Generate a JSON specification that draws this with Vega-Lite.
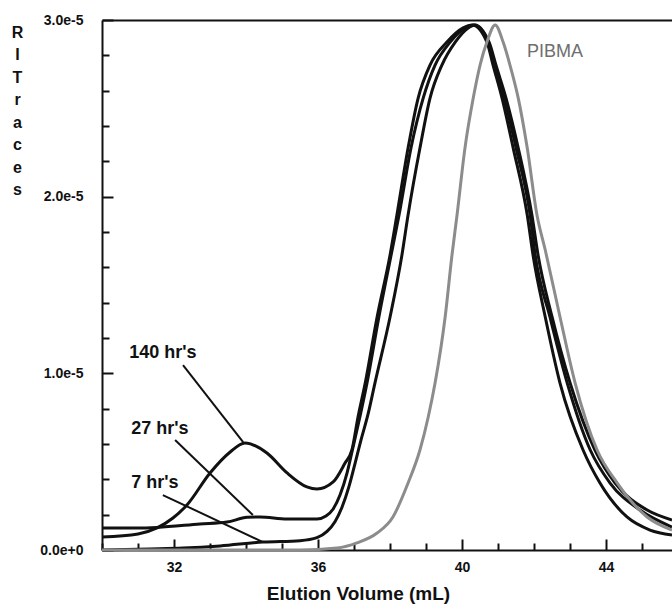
{
  "$schema": "https://vega.github.io/schema/vega-lite/v6.json",
  "autosize": "none",
  "width": 570,
  "height": 530,
  "padding": {"left": 102, "top": 20, "right": 0, "bottom": 55},
  "background": "white",
  "config": {"view": {"stroke": null}, "font": "Liberation Sans"},
  "datasets": {
    "curves": [
      {"series": "140 hr's", "volume": 30.00, "ri": 0.074e-5},
      {"series": "140 hr's", "volume": 31.00, "ri": 0.091e-5},
      {"series": "140 hr's", "volume": 31.53, "ri": 0.125e-5},
      {"series": "140 hr's", "volume": 31.97, "ri": 0.181e-5},
      {"series": "140 hr's", "volume": 32.36, "ri": 0.255e-5},
      {"series": "140 hr's", "volume": 33.00, "ri": 0.436e-5},
      {"series": "140 hr's", "volume": 33.56, "ri": 0.555e-5},
      {"series": "140 hr's", "volume": 33.97, "ri": 0.606e-5},
      {"series": "140 hr's", "volume": 34.58, "ri": 0.549e-5},
      {"series": "140 hr's", "volume": 35.14, "ri": 0.436e-5},
      {"series": "140 hr's", "volume": 35.69, "ri": 0.357e-5},
      {"series": "140 hr's", "volume": 35.97, "ri": 0.345e-5},
      {"series": "140 hr's", "volume": 36.42, "ri": 0.385e-5},
      {"series": "140 hr's", "volume": 36.75, "ri": 0.492e-5},
      {"series": "140 hr's", "volume": 36.94, "ri": 0.566e-5},
      {"series": "140 hr's", "volume": 37.11, "ri": 0.753e-5},
      {"series": "140 hr's", "volume": 37.31, "ri": 0.945e-5},
      {"series": "140 hr's", "volume": 37.64, "ri": 1.319e-5},
      {"series": "140 hr's", "volume": 38.00, "ri": 1.670e-5},
      {"series": "140 hr's", "volume": 38.19, "ri": 1.896e-5},
      {"series": "140 hr's", "volume": 38.50, "ri": 2.275e-5},
      {"series": "140 hr's", "volume": 38.78, "ri": 2.558e-5},
      {"series": "140 hr's", "volume": 39.11, "ri": 2.745e-5},
      {"series": "140 hr's", "volume": 39.58, "ri": 2.875e-5},
      {"series": "140 hr's", "volume": 40.03, "ri": 2.955e-5},
      {"series": "140 hr's", "volume": 40.28, "ri": 2.972e-5},
      {"series": "140 hr's", "volume": 40.69, "ri": 2.875e-5},
      {"series": "140 hr's", "volume": 40.86, "ri": 2.745e-5},
      {"series": "140 hr's", "volume": 41.11, "ri": 2.558e-5},
      {"series": "140 hr's", "volume": 41.42, "ri": 2.275e-5},
      {"series": "140 hr's", "volume": 41.81, "ri": 1.896e-5},
      {"series": "140 hr's", "volume": 41.97, "ri": 1.670e-5},
      {"series": "140 hr's", "volume": 42.31, "ri": 1.319e-5},
      {"series": "140 hr's", "volume": 42.72, "ri": 0.945e-5},
      {"series": "140 hr's", "volume": 43.36, "ri": 0.566e-5},
      {"series": "140 hr's", "volume": 43.83, "ri": 0.379e-5},
      {"series": "140 hr's", "volume": 44.58, "ri": 0.187e-5},
      {"series": "140 hr's", "volume": 45.22, "ri": 0.113e-5},
      {"series": "140 hr's", "volume": 45.83, "ri": 0.085e-5},

      {"series": "27 hr's", "volume": 30.00, "ri": 0.125e-5},
      {"series": "27 hr's", "volume": 31.00, "ri": 0.125e-5},
      {"series": "27 hr's", "volume": 31.53, "ri": 0.128e-5},
      {"series": "27 hr's", "volume": 32.72, "ri": 0.147e-5},
      {"series": "27 hr's", "volume": 33.47, "ri": 0.158e-5},
      {"series": "27 hr's", "volume": 34.03, "ri": 0.185e-5},
      {"series": "27 hr's", "volume": 34.39, "ri": 0.187e-5},
      {"series": "27 hr's", "volume": 35.14, "ri": 0.175e-5},
      {"series": "27 hr's", "volume": 35.97, "ri": 0.175e-5},
      {"series": "27 hr's", "volume": 36.22, "ri": 0.192e-5},
      {"series": "27 hr's", "volume": 36.42, "ri": 0.232e-5},
      {"series": "27 hr's", "volume": 36.61, "ri": 0.311e-5},
      {"series": "27 hr's", "volume": 36.81, "ri": 0.440e-5},
      {"series": "27 hr's", "volume": 36.97, "ri": 0.580e-5},
      {"series": "27 hr's", "volume": 37.17, "ri": 0.760e-5},
      {"series": "27 hr's", "volume": 37.36, "ri": 0.945e-5},
      {"series": "27 hr's", "volume": 37.69, "ri": 1.319e-5},
      {"series": "27 hr's", "volume": 38.03, "ri": 1.670e-5},
      {"series": "27 hr's", "volume": 38.25, "ri": 1.896e-5},
      {"series": "27 hr's", "volume": 38.58, "ri": 2.275e-5},
      {"series": "27 hr's", "volume": 38.92, "ri": 2.558e-5},
      {"series": "27 hr's", "volume": 39.25, "ri": 2.745e-5},
      {"series": "27 hr's", "volume": 39.67, "ri": 2.875e-5},
      {"series": "27 hr's", "volume": 40.08, "ri": 2.955e-5},
      {"series": "27 hr's", "volume": 40.33, "ri": 2.972e-5},
      {"series": "27 hr's", "volume": 40.75, "ri": 2.875e-5},
      {"series": "27 hr's", "volume": 40.94, "ri": 2.745e-5},
      {"series": "27 hr's", "volume": 41.22, "ri": 2.558e-5},
      {"series": "27 hr's", "volume": 41.56, "ri": 2.275e-5},
      {"series": "27 hr's", "volume": 41.94, "ri": 1.896e-5},
      {"series": "27 hr's", "volume": 42.11, "ri": 1.670e-5},
      {"series": "27 hr's", "volume": 42.50, "ri": 1.319e-5},
      {"series": "27 hr's", "volume": 43.00, "ri": 0.945e-5},
      {"series": "27 hr's", "volume": 43.69, "ri": 0.566e-5},
      {"series": "27 hr's", "volume": 44.25, "ri": 0.379e-5},
      {"series": "27 hr's", "volume": 45.14, "ri": 0.226e-5},
      {"series": "27 hr's", "volume": 45.83, "ri": 0.170e-5},

      {"series": "7 hr's", "volume": 30.00, "ri": 0.0},
      {"series": "7 hr's", "volume": 31.33, "ri": 0.006e-5},
      {"series": "7 hr's", "volume": 32.25, "ri": 0.011e-5},
      {"series": "7 hr's", "volume": 33.28, "ri": 0.023e-5},
      {"series": "7 hr's", "volume": 34.47, "ri": 0.045e-5},
      {"series": "7 hr's", "volume": 35.50, "ri": 0.053e-5},
      {"series": "7 hr's", "volume": 35.97, "ri": 0.070e-5},
      {"series": "7 hr's", "volume": 36.25, "ri": 0.105e-5},
      {"series": "7 hr's", "volume": 36.47, "ri": 0.160e-5},
      {"series": "7 hr's", "volume": 36.67, "ri": 0.245e-5},
      {"series": "7 hr's", "volume": 36.86, "ri": 0.360e-5},
      {"series": "7 hr's", "volume": 37.03, "ri": 0.492e-5},
      {"series": "7 hr's", "volume": 37.19, "ri": 0.620e-5},
      {"series": "7 hr's", "volume": 37.39, "ri": 0.770e-5},
      {"series": "7 hr's", "volume": 37.58, "ri": 0.945e-5},
      {"series": "7 hr's", "volume": 38.00, "ri": 1.319e-5},
      {"series": "7 hr's", "volume": 38.33, "ri": 1.670e-5},
      {"series": "7 hr's", "volume": 38.50, "ri": 1.896e-5},
      {"series": "7 hr's", "volume": 38.83, "ri": 2.275e-5},
      {"series": "7 hr's", "volume": 39.11, "ri": 2.558e-5},
      {"series": "7 hr's", "volume": 39.44, "ri": 2.745e-5},
      {"series": "7 hr's", "volume": 39.81, "ri": 2.875e-5},
      {"series": "7 hr's", "volume": 40.17, "ri": 2.955e-5},
      {"series": "7 hr's", "volume": 40.36, "ri": 2.972e-5},
      {"series": "7 hr's", "volume": 40.72, "ri": 2.875e-5},
      {"series": "7 hr's", "volume": 40.89, "ri": 2.745e-5},
      {"series": "7 hr's", "volume": 41.17, "ri": 2.558e-5},
      {"series": "7 hr's", "volume": 41.50, "ri": 2.275e-5},
      {"series": "7 hr's", "volume": 41.89, "ri": 1.896e-5},
      {"series": "7 hr's", "volume": 42.03, "ri": 1.670e-5},
      {"series": "7 hr's", "volume": 42.44, "ri": 1.319e-5},
      {"series": "7 hr's", "volume": 42.92, "ri": 0.945e-5},
      {"series": "7 hr's", "volume": 43.56, "ri": 0.566e-5},
      {"series": "7 hr's", "volume": 44.11, "ri": 0.379e-5},
      {"series": "7 hr's", "volume": 44.94, "ri": 0.226e-5},
      {"series": "7 hr's", "volume": 45.83, "ri": 0.130e-5},

      {"series": "PIBMA", "volume": 30.00, "ri": 0.0},
      {"series": "PIBMA", "volume": 35.50, "ri": 0.0},
      {"series": "PIBMA", "volume": 36.53, "ri": 0.011e-5},
      {"series": "PIBMA", "volume": 37.08, "ri": 0.040e-5},
      {"series": "PIBMA", "volume": 37.64, "ri": 0.096e-5},
      {"series": "PIBMA", "volume": 38.08, "ri": 0.187e-5},
      {"series": "PIBMA", "volume": 38.50, "ri": 0.379e-5},
      {"series": "PIBMA", "volume": 38.83, "ri": 0.566e-5},
      {"series": "PIBMA", "volume": 39.06, "ri": 0.753e-5},
      {"series": "PIBMA", "volume": 39.25, "ri": 0.945e-5},
      {"series": "PIBMA", "volume": 39.53, "ri": 1.319e-5},
      {"series": "PIBMA", "volume": 39.72, "ri": 1.670e-5},
      {"series": "PIBMA", "volume": 39.86, "ri": 1.896e-5},
      {"series": "PIBMA", "volume": 40.08, "ri": 2.275e-5},
      {"series": "PIBMA", "volume": 40.31, "ri": 2.558e-5},
      {"series": "PIBMA", "volume": 40.50, "ri": 2.745e-5},
      {"series": "PIBMA", "volume": 40.69, "ri": 2.875e-5},
      {"series": "PIBMA", "volume": 40.92, "ri": 2.972e-5},
      {"series": "PIBMA", "volume": 41.14, "ri": 2.875e-5},
      {"series": "PIBMA", "volume": 41.33, "ri": 2.745e-5},
      {"series": "PIBMA", "volume": 41.56, "ri": 2.558e-5},
      {"series": "PIBMA", "volume": 41.81, "ri": 2.275e-5},
      {"series": "PIBMA", "volume": 42.08, "ri": 1.896e-5},
      {"series": "PIBMA", "volume": 42.31, "ri": 1.698e-5},
      {"series": "PIBMA", "volume": 42.72, "ri": 1.319e-5},
      {"series": "PIBMA", "volume": 43.14, "ri": 0.945e-5},
      {"series": "PIBMA", "volume": 43.75, "ri": 0.566e-5},
      {"series": "PIBMA", "volume": 44.31, "ri": 0.379e-5},
      {"series": "PIBMA", "volume": 45.14, "ri": 0.187e-5},
      {"series": "PIBMA", "volume": 45.83, "ri": 0.113e-5}
    ],
    "pointers": [
      {"series": "140 hr's", "x1": 32.25, "y1": 1.047e-5, "x2": 33.92, "y2": 0.611e-5},
      {"series": "27 hr's", "x1": 32.03, "y1": 0.623e-5, "x2": 34.19, "y2": 0.198e-5},
      {"series": "7 hr's", "x1": 31.69, "y1": 0.311e-5, "x2": 34.47, "y2": 0.045e-5}
    ],
    "labels": [
      {"label": "140 hr's", "x": 31.69, "y": 1.115e-5},
      {"label": "27 hr's", "x": 31.61, "y": 0.685e-5},
      {"label": "7 hr's", "x": 31.47, "y": 0.379e-5},
      {"label": "PIBMA", "x": 42.58, "y": 2.819e-5}
    ]
  },
  "resolve": {"axis": {"x": "independent", "y": "independent"}},
  "layer": [
    {
      "data": {"name": "pointers"},
      "mark": {"type": "rule", "strokeWidth": 2, "color": "#111"},
      "encoding": {
        "x": {
          "field": "x1", "type": "quantitative",
          "scale": {"domain": [30, 45.83], "nice": false, "zero": false},
          "axis": {"orient": "bottom", "offset": 0, "values": [30,31,33,34,35,37,38,39,41,42,43,45], "labels": false, "grid": false, "title": null, "domain": false,
                   "tickColor": "#111", "tickWidth": 2, "tickSize": -7}
        },
        "y": {
          "field": "y1", "type": "quantitative", "scale": {"domain": [0, 3e-5], "nice": false},
          "axis": {"orient": "left", "offset": 0, "values": [2e-6, 4e-6, 6e-6, 8e-6, 1.2e-5, 1.4e-5, 1.6e-5, 1.8e-5, 2.2e-5, 2.4e-5, 2.6e-5, 2.8e-5],
                   "labels": false, "grid": false, "title": null, "domain": false,
                   "tickColor": "#111", "tickWidth": 2, "tickSize": -7}
        },
        "x2": {"field": "x2"},
        "y2": {"field": "y2"}
      }
    },
    {
      "data": {"name": "curves"},
      "mark": {"type": "line", "interpolate": "monotone", "strokeWidth": 3},
      "encoding": {
        "x": {
          "field": "volume", "type": "quantitative",
          "scale": {"domain": [30, 45.83], "nice": false, "zero": false},
          "axis": {
            "orient": "bottom", "offset": 0,
            "values": [32, 36, 40, 44],
            "grid": false,
            "domainColor": "#111", "domainWidth": 2,
            "tickColor": "#111", "tickWidth": 2, "tickSize": -11,
            "labelFont": "Liberation Sans", "labelFontSize": 14, "labelFontWeight": "bold", "labelColor": "#111",
            "labelPadding": 21, "labelFlush": false, "labelOverlap": false, "labelBound": false,
            "title": "Elution Volume (mL)",
            "titleFont": "Liberation Sans", "titleFontSize": 19, "titleFontWeight": "bold", "titleColor": "#111",
            "titleX": 256, "titleY": 43, "titleAlign": "center", "titleBaseline": "middle"
          }
        },
        "y": {
          "field": "ri", "type": "quantitative",
          "scale": {"domain": [0, 3e-5], "nice": false, "zero": true},
          "axis": {
            "orient": "left", "offset": 0,
            "values": [0, 1e-5, 2e-5, 3e-5],
            "labelExpr": "datum.value == 0 ? '0.0e+0' : format(datum.value*1e5, '.1f') + 'e-5'",
            "grid": false,
            "domainColor": "#111", "domainWidth": 2,
            "tickColor": "#111", "tickWidth": 2, "tickSize": -11,
            "labelFont": "Liberation Sans", "labelFontSize": 14, "labelFontWeight": "bold", "labelColor": "#111",
            "labelPadding": 30, "labelFlush": false, "labelOverlap": false, "labelBound": false,
            "title": ["R", "I", " ", " ", "T", "r", "a", "c", "e", "s"],
            "titleFont": "Liberation Sans", "titleFontSize": 16, "titleFontWeight": "bold", "titleColor": "#111",
            "titleAngle": 0, "titleX": -85, "titleY": 4, "titleAlign": "center", "titleBaseline": "top",
            "titleLineHeight": 22.5
          }
        },
        "color": {
          "field": "series", "type": "nominal",
          "scale": {"domain": ["140 hr's", "27 hr's", "7 hr's", "PIBMA"], "range": ["#111111", "#111111", "#111111", "#8c8c8c"]},
          "legend": null
        }
      }
    },
    {
      "data": {"name": "labels"},
      "transform": [{"filter": "datum.label != 'PIBMA'"}],
      "mark": {"type": "text", "font": "Liberation Sans", "fontSize": 18, "fontWeight": "bold", "color": "#111", "align": "center", "baseline": "middle"},
      "encoding": {
        "x": {"field": "x", "type": "quantitative", "scale": {"domain": [30, 45.83], "nice": false, "zero": false},
              "axis": {"orient": "top", "offset": 0, "labels": false, "ticks": false, "grid": false, "title": null, "domain": true, "domainColor": "#111", "domainWidth": 2}},
        "y": {"field": "y", "type": "quantitative", "scale": {"domain": [0, 3e-5], "nice": false}, "axis": null},
        "text": {"field": "label"}
      }
    },
    {
      "data": {"name": "labels"},
      "transform": [{"filter": "datum.label == 'PIBMA'"}],
      "mark": {"type": "text", "font": "Liberation Sans", "fontSize": 18, "color": "#6e6e6e", "align": "center", "baseline": "middle"},
      "encoding": {
        "x": {"field": "x", "type": "quantitative", "scale": {"domain": [30, 45.83], "nice": false, "zero": false}, "axis": null},
        "y": {"field": "y", "type": "quantitative", "scale": {"domain": [0, 3e-5], "nice": false}, "axis": null},
        "text": {"field": "label"}
      }
    }
  ]
}
